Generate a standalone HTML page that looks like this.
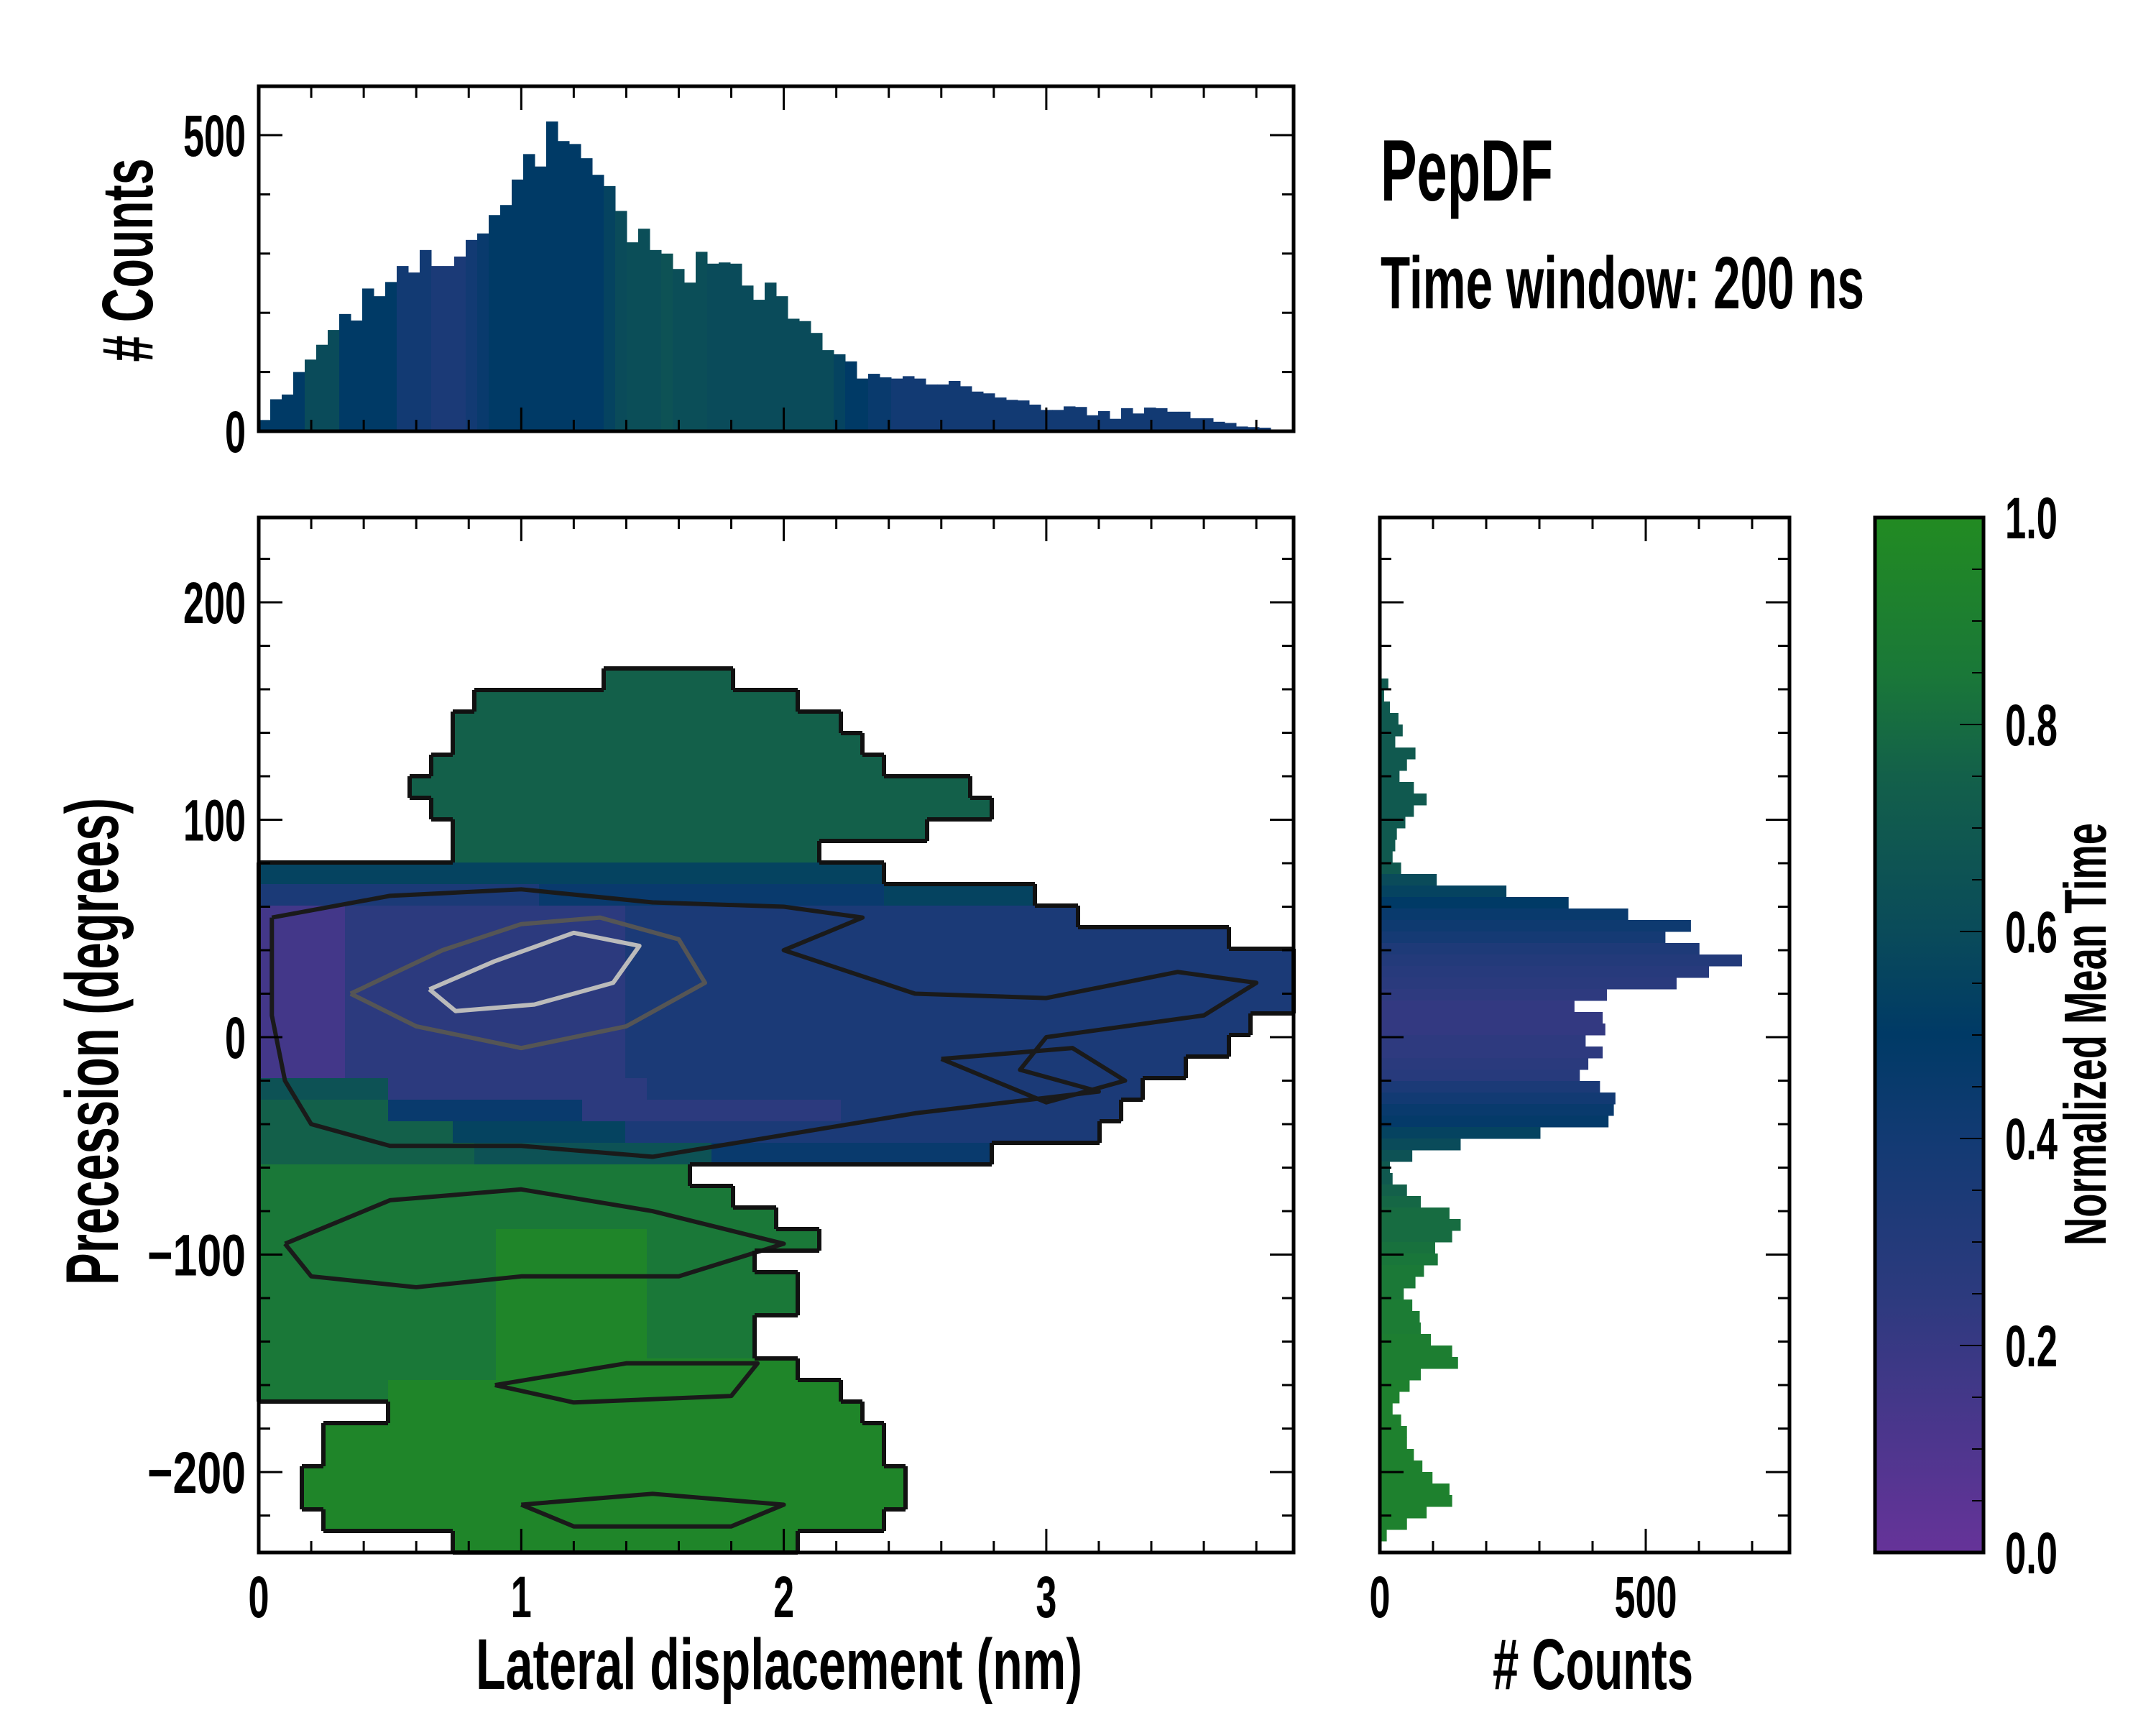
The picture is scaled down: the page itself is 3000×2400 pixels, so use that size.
<!DOCTYPE html>
<html><head><meta charset="utf-8"><style>
html,body{margin:0;padding:0;background:#fff;}
svg{display:block;}
text{font-family:"Liberation Sans Narrow","Liberation Sans",sans-serif;font-weight:bold;fill:#000;}
</style></head><body>
<svg id="fig" width="3000" height="2400" viewBox="0 0 3000 2400" xmlns="http://www.w3.org/2000/svg">
<defs>
<linearGradient id="cmapGrad" x1="0" y1="1" x2="0" y2="0">
<stop offset="0" stop-color="#663399"/><stop offset="0.25" stop-color="#2c3a7e"/><stop offset="0.4" stop-color="#123a73"/><stop offset="0.5" stop-color="#003a66"/><stop offset="0.6" stop-color="#0a4b5a"/><stop offset="0.75" stop-color="#13604a"/><stop offset="0.85" stop-color="#1a7838"/><stop offset="1" stop-color="#228b22"/>
</linearGradient>
</defs>
<g id="heatLayer"></g>
<g id="contourLayer"></g>
<g id="outlineLayer"></g>
<g id="topHist"></g>
<g id="rightHist"></g>
<rect x="2609" y="720" width="151" height="1440" fill="url(#cmapGrad)"/>
<g id="axesLayer"></g>
<text x="1921" y="279" font-size="122" textLength="240" lengthAdjust="spacingAndGlyphs">PepDF</text>
<text x="1921" y="429" font-size="103" textLength="673" lengthAdjust="spacingAndGlyphs">Time window: 200 ns</text>
<text x="662" y="2350" font-size="100" textLength="844" lengthAdjust="spacingAndGlyphs">Lateral displacement (nm)</text>
<text x="2077" y="2350" font-size="100" textLength="279" lengthAdjust="spacingAndGlyphs"># Counts</text>
<text transform="translate(164,1449) rotate(-90)" text-anchor="middle" font-size="104" textLength="678" lengthAdjust="spacingAndGlyphs">Precession (degrees)</text>
<text transform="translate(212,362) rotate(-90)" text-anchor="middle" font-size="100" textLength="283" lengthAdjust="spacingAndGlyphs"># Counts</text>
<text transform="translate(2930,1439) rotate(-90)" text-anchor="middle" font-size="83" textLength="588" lengthAdjust="spacingAndGlyphs">Normalized Mean Time</text>
</svg>
<script>
// ---------- data ----------
const topCounts=[19,54,62,100,121,146,171,198,187,241,228,252,279,268,306,279,279,295,323,334,365,382,425,468,447,523,490,485,461,433,414,372,319,342,306,300,274,251,303,283,285,283,246,222,251,228,190,186,166,137,130,118,89,97,91,89,93,89,79,79,85,76,67,64,57,53,52,45,36,36,42,41,27,34,21,39,30,40,39,33,33,22,22,16,14,8,7,6,0,0];
const topTimes=[0.5,0.5,0.5,0.5,0.6,0.6,0.6,0.5,0.5,0.5,0.5,0.5,0.4,0.4,0.4,0.35,0.35,0.35,0.4,0.45,0.5,0.5,0.5,0.5,0.5,0.5,0.5,0.5,0.5,0.5,0.55,0.6,0.62,0.62,0.62,0.65,0.62,0.62,0.62,0.6,0.6,0.6,0.6,0.6,0.6,0.6,0.6,0.6,0.6,0.6,0.55,0.5,0.5,0.45,0.45,0.4,0.4,0.4,0.4,0.4,0.4,0.4,0.4,0.4,0.4,0.4,0.4,0.4,0.4,0.4,0.4,0.4,0.4,0.4,0.4,0.4,0.4,0.4,0.4,0.4,0.4,0.4,0.4,0.4,0.4,0.4,0.4,0.4,0.4,0.4];
const rightCounts=[0,0,0,0,0,0,0,0,0,0,0,0,0,3,16,8,19,35,43,29,67,51,37,64,88,64,48,32,29,24,40,107,238,355,467,585,537,601,681,619,558,427,366,419,424,387,419,392,376,414,443,440,430,302,152,61,19,24,51,77,131,152,136,104,109,83,67,45,61,75,77,96,136,147,77,56,37,24,40,51,51,64,80,99,131,136,88,51,13,2];
const rightTimes=[0.7,0.7,0.7,0.7,0.7,0.7,0.7,0.7,0.7,0.7,0.7,0.7,0.7,0.7,0.7,0.7,0.7,0.7,0.7,0.7,0.7,0.7,0.7,0.7,0.7,0.7,0.7,0.7,0.7,0.7,0.7,0.6,0.55,0.5,0.45,0.42,0.38,0.33,0.3,0.28,0.26,0.24,0.22,0.22,0.22,0.24,0.24,0.26,0.28,0.35,0.4,0.45,0.48,0.55,0.6,0.65,0.7,0.7,0.75,0.78,0.8,0.8,0.8,0.82,0.84,0.86,0.86,0.86,0.88,0.88,0.88,0.9,0.9,0.9,0.9,0.92,0.92,0.92,0.92,0.92,0.92,0.92,0.92,0.92,0.92,0.92,0.92,0.92,0.92,0.92];
// heatmap rows (top to bottom), run-length "count:level"; '.' = empty; level d => mean time (d+0.5)/10
const heatRows=[
"48:.","48:.","48:.","48:.","48:.","48:.","48:.",
"16:. 6:7 26:.","10:. 15:7 23:.","9:. 18:7 21:.","9:. 19:7 20:.","8:. 21:7 19:.","7:. 26:7 15:.","8:. 26:7 14:.","9:. 22:7 17:.","9:. 17:7 22:.",
"29:5 19:.","13:3 16:4 7:5 12:.","4:1 13:2 21:3 10:.","4:1 13:2 28:3 3:.","4:1 13:2 31:3","4:1 13:2 31:3","4:1 13:2 31:3","4:1 13:2 29:3 2:.","4:1 13:2 28:3 3:.","4:1 13:2 26:3 5:.",
"6:6 12:2 23:3 7:.","6:7 9:4 12:2 13:3 8:.","9:7 8:5 22:3 9:.","10:7 11:6 13:4 14:.",
"20:8 28:.","22:8 26:.","24:8 24:.","11:8 7:9 8:8 22:.","11:8 7:9 5:8 25:.","11:8 7:9 7:8 23:.","11:8 7:9 7:8 23:.","11:8 7:9 5:8 25:.","11:8 7:9 5:8 25:.","11:8 14:9 23:.",
"6:8 21:9 21:.","6:. 22:9 20:.","3:. 26:9 19:.","3:. 26:9 19:.","2:. 28:9 18:.","2:. 28:9 18:.","3:. 26:9 19:.","9:. 16:9 23:."
];
// inner contour polylines: [nm, degrees]
const contourBandOuterX=[0.05,0.5,1.0,1.5,2.0,2.3,2.0,2.5,3.0,3.5,3.8,3.6,3.0,2.9,3.2,2.5,2.0,1.5,1.0,0.5,0.2,0.1,0.05,0.05];
const contourBandOuterY=[55,65,68,62,60,55,40,20,18,30,25,10,0,-15,-25,-35,-45,-55,-50,-50,-40,-20,10,55];
const contourCoreX=[0.35,0.7,1.0,1.3,1.6,1.7,1.4,1.0,0.6,0.35];
const contourCoreY=[20,40,52,55,45,25,5,-5,5,20];
const contourPeakX=[0.65,0.9,1.2,1.45,1.35,1.05,0.75,0.65];
const contourPeakY=[22,35,48,42,25,15,12,22];
const contourLowAX=[0.1,0.5,1.0,1.5,2.0,1.6,1.0,0.6,0.2,0.1];
const contourLowAY=[-95,-75,-70,-80,-95,-110,-110,-115,-110,-95];
const contourLowBX=[0.9,1.4,1.9,1.8,1.2,0.9];
const contourLowBY=[-160,-150,-150,-165,-168,-160];
const contourLowCX=[1.0,1.5,2.0,1.8,1.2,1.0];
const contourLowCY=[-215,-210,-215,-225,-225,-215];
const contourRightX=[2.6,3.1,3.3,3.0,2.6];
const contourRightY=[-10,-5,-20,-30,-10];
const xTickLabels=["0","1","2","3"];
const yTickLabels=["200","100","0","\u2212100","\u2212200"];
const yTickValues=[200,100,0,-100,-200];
const cbTickLabels=["0.0","0.2","0.4","0.6","0.8","1.0"];
const histTickLabels=["0","500"];

// ---------- axes ----------
const XMIN=0,XMAX=3.942,YMIN=-237,YMAX=239;
const PX0=360,PX1=1800,PY0=720,PY1=2160;
const X=v=>PX0+(v-XMIN)/(XMAX-XMIN)*(PX1-PX0);
const Y=v=>PY1-(v-YMIN)/(YMAX-YMIN)*(PY1-PY0);
const HY=c=>600-c*0.824;
const RX=c=>1920+c*0.74;
const CY=t=>2160-t*1440;
const NS="http://www.w3.org/2000/svg";
function mk(tag,attrs,parent){const e=document.createElementNS(NS,tag);for(const k in attrs)e.setAttribute(k,attrs[k]);parent.appendChild(e);return e;}
const stops=[[0,[0x66,0x33,0x99]],[0.25,[0x2c,0x3a,0x7e]],[0.4,[0x12,0x3a,0x73]],[0.5,[0x00,0x3a,0x66]],[0.6,[0x0a,0x4b,0x5a]],[0.75,[0x13,0x60,0x4a]],[0.85,[0x1a,0x78,0x38]],[1,[0x22,0x8b,0x22]]];
function cmap(t){t=Math.max(0,Math.min(1,t));for(let i=1;i<stops.length;i++){if(t<=stops[i][0]){const a=stops[i-1],b=stops[i];const f=(t-a[0])/(b[0]-a[0]);const c=a[1].map((v,k)=>Math.round(v+(b[1][k]-v)*f));return `rgb(${c[0]},${c[1]},${c[2]})`;}}return "rgb(34,139,34)";}

// ---------- heatmap ----------
const heat=document.getElementById('heatLayer');
const grid=heatRows.map(r=>{let s="";r.split(" ").forEach(tok=>{const [n,c]=tok.split(":");s+=c.repeat(+n);});return (s+".".repeat(48)).slice(0,48);});
const NC=48,NR=grid.length;
const dx=(XMAX-XMIN)/NC,dy=(YMAX-YMIN)/NR;
for(let j=0;j<NR;j++)for(let i=0;i<NC;i++){const c=grid[j][i];if(c==='.')continue;
 const x0=X(XMIN+i*dx),x1=X(XMIN+(i+1)*dx),y0=Y(YMAX-j*dy),y1=Y(YMAX-(j+1)*dy);
 const r=mk('rect',{x:x0,y:y0,width:x1-x0+0.6,height:y1-y0+0.6,fill:cmap((+c+0.5)/10)},heat);
 
 
}
// inner contours
const cl=document.getElementById('contourLayer');
function contour(xs,ys,color,name){const pts=xs.map((v,k)=>X(v)+','+Y(ys[k])).join(' ');
 const p=mk('polyline',{points:pts,fill:'none',stroke:color,"stroke-width":6,"stroke-linejoin":"round"},cl);
 
 }
contour(contourBandOuterX,contourBandOuterY,'#1a1a1a','contour-band');
contour(contourCoreX,contourCoreY,'#555','contour-core');
contour(contourPeakX,contourPeakY,'#bbb','contour-peak');
contour(contourLowAX,contourLowAY,'#1a1a1a','contour-lower-a');
contour(contourLowBX,contourLowBY,'#1a1a1a','contour-lower-b');
contour(contourLowCX,contourLowCY,'#1a1a1a','contour-lower-c');
contour(contourRightX,contourRightY,'#1a1a1a','contour-right');
const out=document.getElementById('outlineLayer');
let d="";const filled=(i,j)=>i>=0&&i<NC&&j>=0&&j<NR&&grid[j][i]!=='.';
for(let j=0;j<NR;j++)for(let i=0;i<NC;i++){if(!filled(i,j))continue;
 const x0=X(XMIN+i*dx),x1=X(XMIN+(i+1)*dx),y0=Y(YMAX-j*dy),y1=Y(YMAX-(j+1)*dy);
 if(!filled(i,j-1))d+=`M${x0},${y0}H${x1}`;if(!filled(i,j+1))d+=`M${x0},${y1}H${x1}`;
 if(!filled(i-1,j))d+=`M${x0},${y0}V${y1}`;if(!filled(i+1,j))d+=`M${x1},${y0}V${y1}`;}
const op=mk('path',{d:d,stroke:'#111',"stroke-width":6,fill:'none'},out);



// ---------- top histogram ----------
const th=document.getElementById('topHist');
const bw=(XMAX-XMIN)/topCounts.length;
topCounts.forEach((c,i)=>{if(c<=0)return;const x0=X(XMIN+i*bw),x1=X(XMIN+(i+1)*bw);
 const r=mk('rect',{x:x0,y:HY(c),width:x1-x0+0.5,height:HY(0)-HY(c),fill:cmap(topTimes[i])},th);
 
 });
// ---------- right histogram ----------
const rh=document.getElementById('rightHist');
const bh=(YMAX-YMIN)/rightCounts.length;
rightCounts.forEach((c,j)=>{if(c<=0)return;const y0=Y(YMAX-j*bh),y1=Y(YMAX-(j+1)*bh);
 const r=mk('rect',{x:RX(0),y:y0,width:RX(c)-RX(0),height:y1-y0+0.5,fill:cmap(rightTimes[j])},rh);
 
 });

// ---------- frames & ticks ----------
const ax=document.getElementById('axesLayer');
function frame(x0,y0,x1,y1,name){const r=mk('rect',{x:x0,y:y0,width:x1-x0,height:y1-y0,fill:'none',stroke:'#000',"stroke-width":5},ax);}
function line(x1,y1,x2,y2,w){mk('line',{x1,y1,x2,y2,stroke:'#000',"stroke-width":w||3},ax);}
function label(txt,x,y,anchor,name,len){const t=mk('text',{x,y,"font-size":82,"text-anchor":anchor,textLength:len,lengthAdjust:"spacingAndGlyphs"},ax);t.textContent=txt;}
const lw=s=>s.length*29+(s.indexOf('\u2212')>=0?21:0)-(s.indexOf('.')>=0?16:0);
function xTicks(top,bot){for(let k=0;k<=19;k++){const v=k*0.2;if(v>XMAX)break;const x=X(v);const L=(k%5===0)?33:16;line(x,bot,x,bot-L);line(x,top,x,top+L);}}
function yTicksMain(x0,x1){for(let v=-220;v<=220;v+=20){const y=Y(v);const L=(v%100===0)?33:16;line(x0,y,x0+L,y);line(x1,y,x1-L,y);}}
frame(360,120,1800,600,'top-hist-frame');xTicks(120,600);
for(let c=0;c<=500;c+=100){const L=c%500===0?33:16;line(360,HY(c),360+L,HY(c));line(1800,HY(c),1800-L,HY(c));}
histTickLabels.forEach((s,i)=>label(s,342,HY(i*500)+29,'end','top-hist-y-tick-label',lw(s)));
frame(PX0,PY0,PX1,PY1,'main-plot-frame');xTicks(PY0,PY1);yTicksMain(PX0,PX1);
xTickLabels.forEach((s,i)=>label(s,X(i),2250,'middle','x-tick-label',lw(s)));
yTickLabels.forEach((s,i)=>label(s,342,Y(yTickValues[i])+29,'end','y-tick-label',lw(s)));
frame(1920,PY0,2490,PY1,'right-hist-frame');yTicksMain(1920,2490);
for(let c=0;c<=700;c+=100){const L=c%500===0?33:16;line(RX(c),PY1,RX(c),PY1-L);line(RX(c),PY0,RX(c),PY0+L);}
histTickLabels.forEach((s,i)=>label(s,RX(i*500),2250,'middle','right-hist-x-tick-label',lw(s)));
frame(2609,720,2760,2160,'colorbar-frame');
for(let k=1;k<20;k++){const t=k*0.05;const L=(k%4===0)?33:16;line(2760,CY(t),2760-L,CY(t),2);}
cbTickLabels.forEach((s,i)=>label(s,2790,CY(i*0.2)+29,'start','colorbar-tick-label',73));
</script>
</body></html>
